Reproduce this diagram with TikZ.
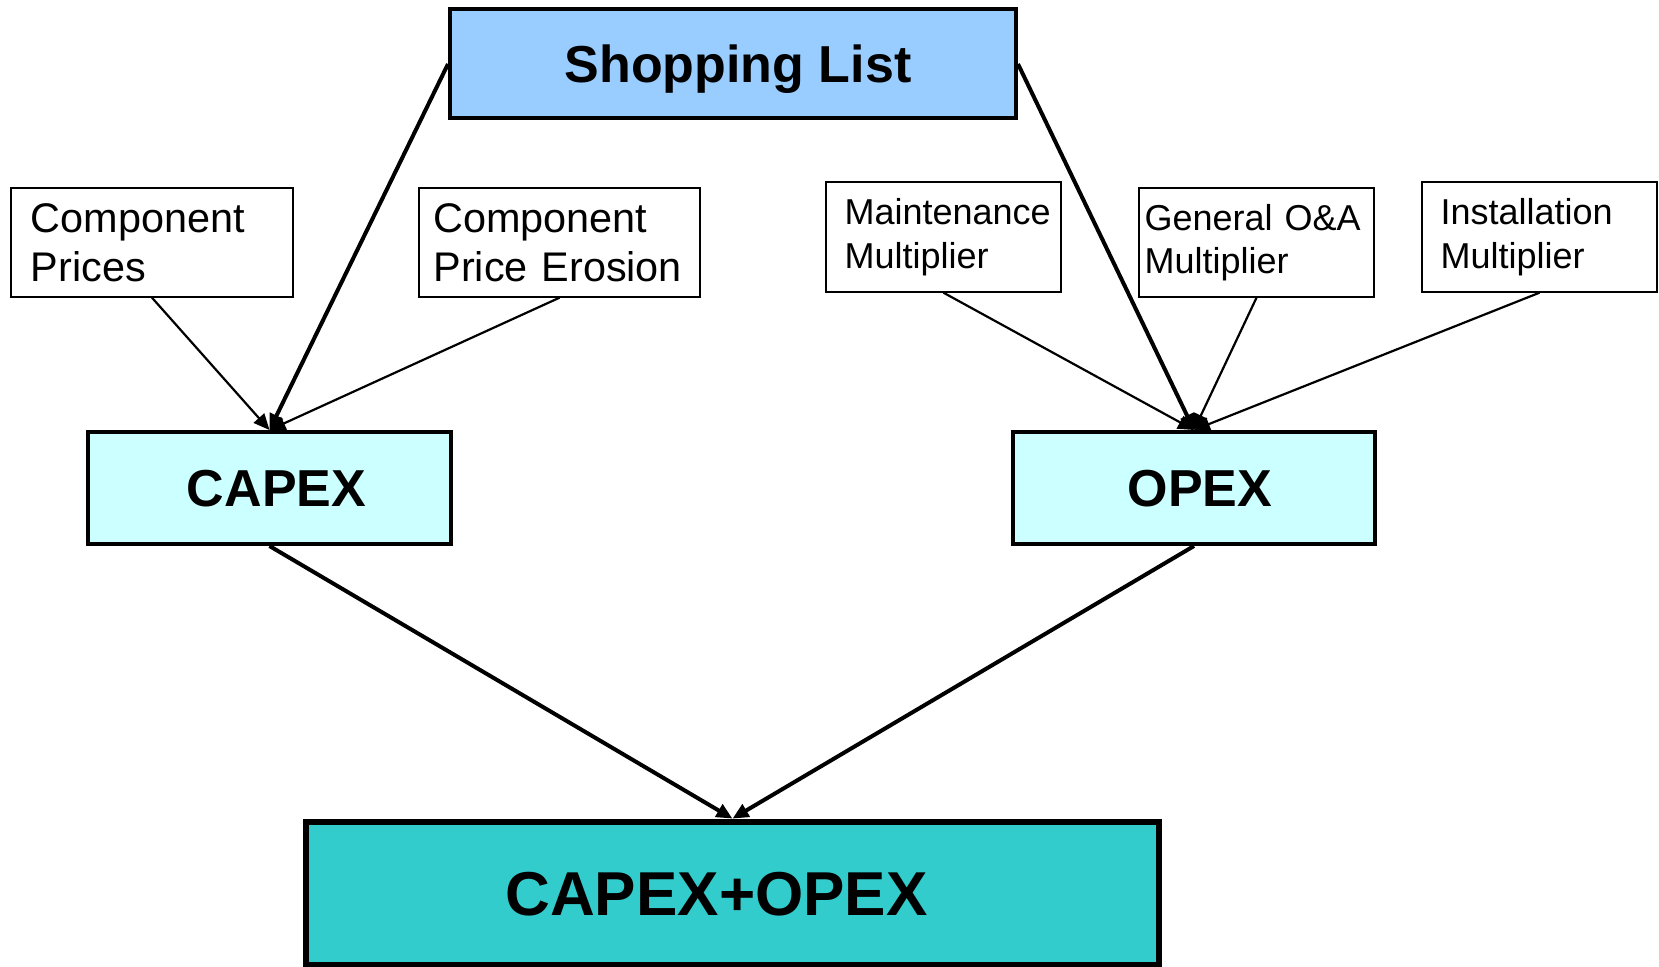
\documentclass[tikz,border=0pt]{standalone}
\usepackage{fontspec}
\setmainfont{Liberation Sans}
\usepackage{tikz}
\usetikzlibrary{arrows.meta}
\definecolor{listblue}{HTML}{99CCFF}
\definecolor{costcyan}{HTML}{CCFFFF}
\definecolor{totalteal}{HTML}{33CCCC}

\begin{document}
\begin{tikzpicture}[x=0.5pt,y=-0.5pt,
    inbox/.style={draw, line width=0.7pt, align=left, inner sep=0pt, minimum height=54.5pt},
    bigbox/.style={draw, line width=2pt, font=\fontsize{26}{30}\selectfont\bfseries, text depth=0pt},
    thick arrow/.style={line width=2pt, -{Triangle[length=8pt,width=7pt]}},
    thin arrow/.style={line width=1.1pt, -{Triangle[length=8pt,width=7pt]}}]
    \useasboundingbox (0,0) rectangle (1659,967);

    % top
    \node[bigbox, fill=listblue, minimum width=283pt, minimum height=54.5pt] (shop) at (733,64) {\hspace*{5pt}Shopping List};

    % capex inputs
    \node[inbox, minimum width=141pt, text width=121pt, font=\fontsize{20.7}{24.3}\selectfont] (prices) at (152,242.5) {Component\\Prices};
    \node[inbox, minimum width=140.5pt, text width=126pt, font=\fontsize{20.7}{24.3}\selectfont] (erosion) at (559.5,242.5) {Component\\Price Erosion};

    % opex inputs
    \node[inbox, minimum width=117.5pt, text width=99pt, minimum height=55pt, font=\fontsize{18}{21.7}\selectfont] (maint) at (943.5,237) {Maintenance\\Multiplier};
    \node[inbox, minimum width=117.5pt, text width=112pt, font=\fontsize{18}{21.7}\selectfont] (general) at (1256.5,242.5) {General O\&A\\Multiplier};
    \node[inbox, minimum width=117.5pt, text width=99pt, minimum height=55pt, font=\fontsize{18}{21.7}\selectfont] (install) at (1539.5,237) {Installation\\Multiplier};

    % costs
    \node[bigbox, fill=costcyan, minimum width=181.5pt, minimum height=56pt] (capex) at (269.5,488) {\hspace*{7pt}CAPEX};
    \node[bigbox, fill=costcyan, minimum width=181pt, minimum height=56pt] (opex) at (1194,488) {\hspace*{6pt}OPEX};
    \node[bigbox, line width=3.4pt, fill=totalteal, minimum width=426.5pt, minimum height=71.5pt, font=\fontsize{31}{36}\selectfont\bfseries] (total) at (732.5,893.5) {CAPEX+OPEX\hspace*{16pt}};

    % arrows
    \draw[thick arrow] (shop.west) -- (capex.north);
    \draw[thick arrow] (shop.east) -- (opex.north);
    \draw[thin arrow] (prices.south) -- (capex.north);
    \draw[thin arrow] (erosion.south) -- (capex.north);
    \draw[thin arrow] (maint.south) -- (opex.north);
    \draw[thin arrow] (general.south) -- (opex.north);
    \draw[thin arrow] (install.south) -- (opex.north);
    \draw[thick arrow] (capex.south) -- (total.north);
    \draw[thick arrow] (opex.south) -- (total.north);
\end{tikzpicture}
\end{document}
